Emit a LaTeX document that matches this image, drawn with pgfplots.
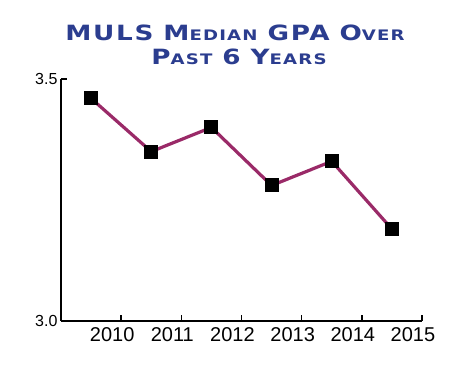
\documentclass[border=0pt]{standalone}
\usepackage{fontspec}
\setmainfont{Liberation Sans}
\newfontfamily\titlefont[LetterSpace=8,FakeStretch=1.25]{DejaVu Sans}
\usepackage{pgfplots}
\pgfplotsset{compat=1.18}
\definecolor{titleblue}{HTML}{2B3D8F}
\definecolor{linecol}{HTML}{9A2A68}
\newcommand{\B}[1]{{\fontsize{21}{21}\selectfont #1}}
\newcommand{\s}[1]{{\fontsize{14.5}{14.5}\selectfont #1}}
\newcommand{\wsp}{\hspace{10pt}}
\begin{document}
\begin{tikzpicture}[x=1pt,y=1pt]
\path (0,0) rectangle (475,376);
\begin{axis}[
  at={(61pt,55pt)}, anchor=south west,
  scale only axis, width=361pt, height=242pt,
  xmin=0, xmax=6, ymin=3.0, ymax=3.5,
  axis x line*=bottom, axis y line*=left,
  axis line style={line width=1.6pt},
  xtick={1,2,3,4,5,6},
  xticklabels={2010,2011,2012,2013,2014,2015},
  ytick={3.0,3.5},
  tick align=inside,
  major tick length=6pt,
  tick style={line width=1.6pt, black},
  xticklabel style={font=\fontsize{20}{20}\selectfont, xshift=-9pt, yshift=-3pt},
  yticklabel style={font=\fontsize{16}{16}\selectfont, /pgf/number format/.cd, fixed, fixed zerofill, precision=1},
  /pgf/number format/assume math mode=true,
  clip=false,
]
\addplot[linecol, line width=3.2pt, mark=square*, mark size=6.5pt,
  mark options={fill=black, draw=black, line width=0pt}]
  coordinates {(0.5,3.46) (1.5,3.35) (2.5,3.40) (3.5,3.28) (4.5,3.33) (5.5,3.19)};
\end{axis}
\node[anchor=base, text=titleblue, inner sep=0pt] at (235,335)
  {\titlefont\bfseries \B{MULS}\wsp\B{M}\s{EDIAN}\wsp\B{GPA}\wsp\B{O}\s{VER}};
\node[anchor=base, text=titleblue, inner sep=0pt] at (239,312)
  {\titlefont\bfseries \B{P}\s{AST}\wsp\B{6}\wsp\B{Y}\s{EARS}};
\end{tikzpicture}
\end{document}
